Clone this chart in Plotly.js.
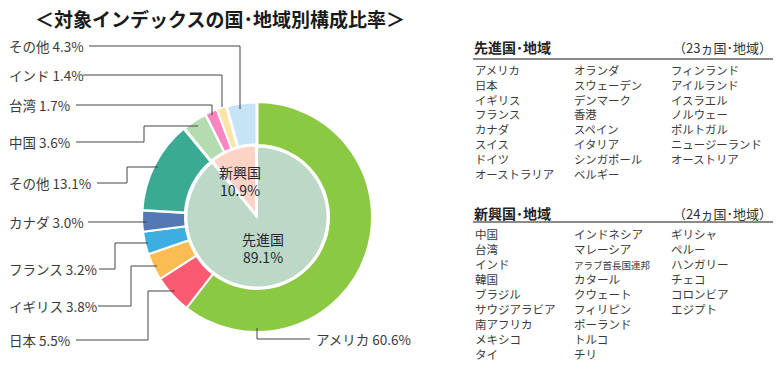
<!DOCTYPE html>
<html><head><meta charset="utf-8">
<script src="https://cdn.plot.ly/plotly-3.0.1.min.js"></script>
<style>html,body{margin:0;padding:0;background:#fff;}#chart{width:784px;height:369px;}</style>
</head><body><div id="chart"></div>
<script>
// ---- data ----
const outerNames = ['アメリカ','日本','イギリス','フランス','カナダ','その他','中国','台湾','インド','その他'];
const outerValues = [60.6, 5.5, 3.8, 3.2, 3.0, 13.1, 3.6, 1.7, 1.4, 4.3];
const innerNames = ['先進国','新興国'];
const innerValues = [89.1, 10.9];
const titleText = '＜対象インデックスの国･地域別構成比率＞';
const devHeader = '先進国･地域';
const devCount = '（23ヵ国･地域）';
const devCol1 = ['アメリカ','日本','イギリス','フランス','カナダ','スイス','ドイツ','オーストラリア'];
const devCol2 = ['オランダ','スウェーデン','デンマーク','香港','スペイン','イタリア','シンガポール','ベルギー'];
const devCol3 = ['フィンランド','アイルランド','イスラエル','ノルウェー','ポルトガル','ニュージーランド','オーストリア'];
const emHeader = '新興国･地域';
const emCount = '（24ヵ国･地域）';
const emCol1 = ['中国','台湾','インド','韓国','ブラジル','サウジアラビア','南アフリカ','メキシコ','タイ'];
const emCol2 = ['インドネシア','マレーシア','アラブ首長国連邦','カタール','クウェート','フィリピン','ポーランド','トルコ','チリ'];
const emCol3 = ['ギリシャ','ペルー','ハンガリー','チェコ','コロンビア','エジプト'];

// ---- styles / layout ----
const W = 784, H = 369;
const FONT = '"Noto Sans CJK JP", "Noto Sans", sans-serif';
const outerColors = ['#8cc943','#fc5a72','#fbbc54','#3daee1','#5379b4','#3aaa92','#b3dcb0','#fb85c0','#fde3a4','#c6e4f5'];
const outerLineW = [2,2,2,2,2,2.5,3,2,2,3];
const innerColors = ['#bcd9c8','#fdd3c6'];
const cx = 257, cy = 217, R = 115, r = 72;
const px = x => x / W, py = y => 1 - y / H;

// label positions (px) and leader line paths (px)
const labelPos = [[314,339],[7,340],[7,306],[7,269],[7,222],[7,183],[7,142],[7,105],[7,75],[7,46]];
const leaders = [
  [[257,328],[257,339],[310,339]],
  [[76,340],[148,340],[148,291],[175,291]],
  [[98,306],[131,306],[131,266],[157,266]],
  [[99,269],[115,269],[115,243],[148,243]],
  [[88,222],[147,222]],
  [[97,183],[127,183],[127,167],[158,167]],
  [[76,142],[144,142],[144,126],[198,126]],
  [[76,105],[212,105],[212,115]],
  [[83,75],[222,75],[222,107]],
  [[89,46],[240,46],[240,109]]
];

const traces = [
  {
    type:'pie', values: outerValues, labels: outerValues.map((v,i)=>'o'+i),
    sort:false, direction:'clockwise', rotation:0, hole: r/R,
    marker:{colors: outerColors, line:{color:'#ffffff', width: outerLineW}},
    textinfo:'none', hoverinfo:'none', showlegend:false,
    domain:{x:[px(cx-R), px(cx+R)], y:[py(cy+R), py(cy-R)]}
  },
  {
    type:'pie', values: innerValues, labels: innerNames,
    sort:false, direction:'clockwise', rotation:0,
    marker:{colors: innerColors, line:{color:'#ffffff', width:[2,3]}},
    pull:[0,0.02],
    textinfo:'none', hoverinfo:'none', showlegend:false,
    domain:{x:[px(cx-r), px(cx+r)], y:[py(cy+r), py(cy-r)]}
  }
];

const annotations = [];
const shapes = [];
function ann(text, x, y, size, opts) {
  annotations.push(Object.assign({
    text, x: px(x), y: py(y), xref:'paper', yref:'paper', showarrow:false,
    xanchor:'left', yanchor:'middle', font:{family:FONT, size, color:'#333333'}
  }, opts || {}));
}
// title
ann('<b>' + titleText + '</b>', 33, 18, 19, {font:{family:FONT, size:19, color:'#1a1a1a'}});
// outer labels
outerNames.forEach((n,i) => {
  ann(n + ' ' + outerValues[i].toFixed(1) + '%', labelPos[i][0], labelPos[i][1], 13.5, {font:{family:FONT,size:13.5,color:'#3a3a3a'}});
  const p = leaders[i];
  shapes.push({type:'path', xref:'paper', yref:'paper',
    path: p.map((q,k)=>(k?'L':'M')+px(q[0])+','+py(q[1])).join(' '),
    line:{color:'#444444', width:1}});
});
// inner labels
ann(innerNames[1] + '<br>' + innerValues[1].toFixed(1) + '%', 240, 181, 14, {xanchor:'center', font:{family:FONT,size:14,color:'#262633'}});
ann(innerNames[0] + '<br>' + innerValues[0].toFixed(1) + '%', 263, 248, 14, {xanchor:'center', font:{family:FONT,size:14,color:'#262633'}});

// right panel: each column as one multi-line text block (line spacing = 1.3 × font size)
const colX = [473, 572, 669];
function panel(header, count, cols, yHead, yLine, y0, step) {
  ann('<b>' + header + '</b>', 472, yHead, 14, {font:{family:FONT,size:14,color:'#222222'}});
  ann(count, 774, yHead, 13, {xanchor:'right', font:{family:FONT,size:13,color:'#333333'}});
  shapes.push({type:'line', xref:'paper', yref:'paper', x0:px(473), x1:px(773), y0:py(yLine), y1:py(yLine), line:{color:'#8a8a8a', width:2}});
  const sz = step / 1.3;
  cols.forEach((col,ci) => {
    const txt = col.map(t => t === 'アラブ首長国連邦' ? '<span style="font-size:9.5px">' + t + '</span>' : t).join('<br>');
    ann(txt, colX[ci], y0 + (col.length - 1) * step / 2, sz, {align:'left', font:{family:FONT,size:sz,color:'#3a3a3a'}});
  });
}
panel(devHeader, devCount, [devCol1, devCol2, devCol3], 47, 59, 70.5, 14.8);
panel(emHeader, emCount, [emCol1, emCol2, emCol3], 213, 222, 234, 15);

Plotly.newPlot('chart', traces, {
  width: W, height: H, margin:{l:0,r:0,t:0,b:0},
  paper_bgcolor:'#ffffff', plot_bgcolor:'#ffffff',
  annotations, shapes, showlegend:false
}, {staticPlot:true, displayModeBar:false});
</script></body></html>
